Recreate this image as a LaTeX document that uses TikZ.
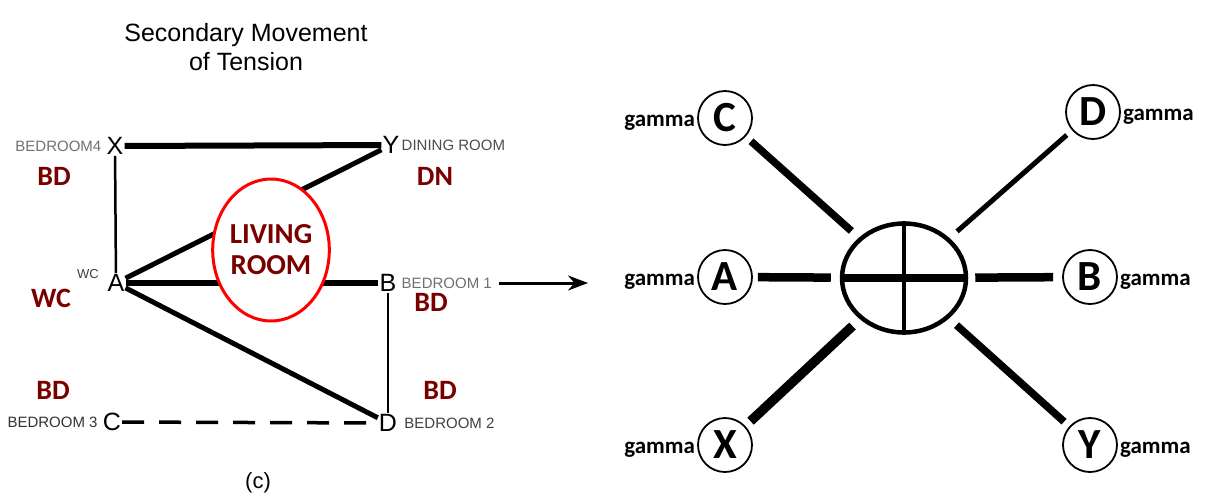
\documentclass[tikz,border=0pt]{standalone}
\usepackage{fontspec}
\setmainfont{Liberation Sans}
\newfontfamily\calib{Carlito}
\usetikzlibrary{positioning,shapes.geometric,arrows,arrows.meta}
\definecolor{roomred}{RGB}{122,0,0}
\definecolor{roomgray}{RGB}{112,112,112}

\begin{document}
\begin{tikzpicture}[x=1pt, y=-1pt, >={Stealth[length=20pt,width=15pt]},
    plan/.style={inner sep=1pt, font=\fontsize{25}{25}\selectfont},
    room/.style={text=roomgray, inner sep=1pt, font=\fontsize{15}{15}\selectfont},
    tag/.style={text=roomred, font=\calib\bfseries\fontsize{28}{28}\selectfont},
    vertex/.style={circle, draw, line width=1.8pt, minimum size=54pt, inner sep=0pt,
            font=\calib\bfseries\fontsize{43}{43}\selectfont},
    gam/.style={inner sep=1pt, yshift=-5pt, font=\calib\bfseries\fontsize{23}{23}\selectfont},
    spoke/.style={line width=#1, shorten <=7pt, shorten >=10pt}]
    \useasboundingbox (0,0) rectangle (1206,498);

    % plan of the house
    \node[anchor=base] (t1) at (246,41) {\fontsize{25}{25}\selectfont Secondary Movement};
    \node[anchor=base] (t2) at (246,70) {\fontsize{25}{25}\selectfont of Tension};

    \node[plan] (X) at (115,146) {X};
    \node[plan] (Y) at (391,145) {Y};
    \node[plan] (A) at (116,283) {A};
    \node[plan] (B) at (388,283) {B};
    \node[plan] (C) at (112,422) {C};
    \node[plan] (D) at (388,423) {D};

    \node[room, left=3pt of X] (r4) {BEDROOM4};
    \node[room, right=0pt of Y, text=black!70] (dn) {DINING ROOM};
    \node[room, right=3pt of B] (r1) {BEDROOM 1};
    \node[room, left=3pt of C, text=black!80] (r3) {BEDROOM 3};
    \node[room, right=5pt of D, text=black!75] (r2) {BEDROOM 2};

    \node[tag] (bd4) at (54,176) {BD};
    \node[tag] (dnt) at (435,176) {DN};
    \node[tag] (wc) at (51,298) {WC};
    \node[inner sep=0pt, text=black!75, font=\fontsize{13}{13}\selectfont] (wcs) at (88,274) {WC};
    \node[tag] (bd1) at (431,302) {BD};
    \node[tag] (bd3) at (53,390) {BD};
    \node[tag] (bd2) at (440,390) {BD};

    \draw[line width=6pt] (X) -- (Y);
    \draw[line width=2.5pt] (X) -- (A);
    \draw[line width=5pt] (A) -- (Y);
    \draw[line width=6pt] (A) -- (B);
    \draw[line width=5pt] (A) -- (D);
    \draw[line width=2.5pt] (B) -- (D);
    \draw[line width=3.5pt, dash pattern=on 22pt off 15pt] (C) -- (D);

    \node[ellipse, draw=red, line width=3pt, fill=white, minimum width=110pt,
        minimum height=142pt, inner sep=0pt, text=roomred, align=center,
        font=\calib\bfseries\fontsize{29}{31}\selectfont] (lr) at (271,250) {LIVING\\ROOM};

    \node[anchor=base, font=\fontsize{22}{22}\selectfont] (cap) at (258,488) {(c)};

    \coordinate (tip) at (588,283);
    \draw[->, line width=3pt] ([xshift=6pt]r1.east) -- (tip);

    % graph
    \node[vertex] (nC) at (725,118) {C};
    \node[vertex] (nD) at (1093,112) {D};
    \node[vertex] (nA) at (725,277) {A};
    \node[vertex] (nB) at (1090,277) {B};
    \node[vertex] (nX) at (725,445) {X};
    \node[vertex] (nY) at (1090,445) {Y};

    \node[gam, left=1pt of nC] (gC) {gamma};
    \node[gam, right=1pt of nD] (gD) {gamma};
    \node[gam, left=1pt of nA] (gA) {gamma};
    \node[gam, right=1pt of nB] (gB) {gamma};
    \node[gam, left=1pt of nX] (gX) {gamma};
    \node[gam, right=1pt of nY] (gY) {gamma};

    \node[ellipse, draw, line width=4.5pt, minimum width=124pt, minimum height=109pt,
        inner sep=0pt] (hub) at (904,278) {};
    \draw[line width=8pt] (hub.west) -- (hub.east);
    \draw[line width=3.5pt] (hub.north) -- (hub.south);

    \draw[spoke=7.5pt] (nC) -- (hub);
    \draw[spoke=5pt] (nD) -- (hub);
    \draw[spoke=8.5pt, shorten <=5pt, shorten >=9pt] (nA) -- (hub);
    \draw[spoke=8.5pt, shorten <=9pt, shorten >=7pt] (nB) -- (hub);
    \draw[spoke=9.5pt] (nX) -- (hub);
    \draw[spoke=7.5pt] (nY) -- (hub);
\end{tikzpicture}
\end{document}
